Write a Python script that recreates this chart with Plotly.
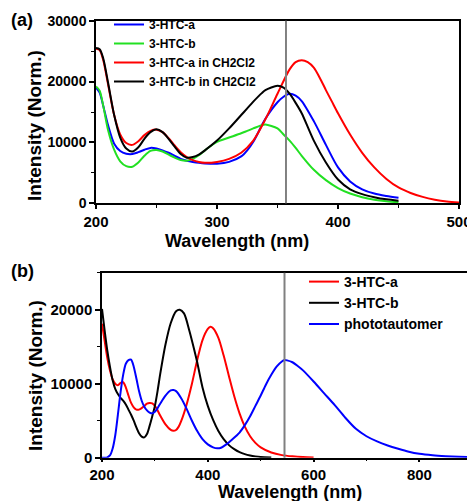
import plotly.graph_objects as go

# ---------------- Panel (a) data ----------------
wl_a = [200, 203, 206, 210, 215, 220, 225, 230, 235, 240, 245, 250, 255, 260, 265, 270, 275, 280,
        285, 290, 300, 310, 320, 325, 330, 337, 340, 350, 355, 360, 365, 370, 380, 390, 400, 410,
        420, 430, 440, 450]
htc_a = [19000, 18200, 16000, 12800, 9800, 8600, 8150, 8100, 8400, 8800, 9100, 9000, 8700, 8300,
         7800, 7300, 7000, 6800, 6650, 6550, 6500, 6800, 7700, 8700, 10100, 12800, 13900, 16600,
         17500, 18000, 17700, 16800, 13500, 9600, 5900, 3600, 2300, 1600, 1200, 900]
htc_b = [19200, 18500, 16000, 12000, 8800, 6900, 6100, 6000, 6700, 7800, 8600, 8750, 8500, 8000,
         7500, 7100, 7000, 7300, 7900, 8700, 10100, 10800, 11500, 11900, 12300, 12850, 12950, 12300,
         11300, 10300, 9100, 7800, 5500, 3800, 2500, 1600, 1000, 600, 350, 200]
htc_b_ch = [25500, 25300, 23800, 19800, 14500, 10800, 9000, 8500, 9200, 10600, 11700, 12150, 11700,
            10600, 9300, 8100, 7500, 7600, 8000, 8700, 10300, 12300, 14500, 15600, 16700, 18100,
            18600, 19300, 19000, 18000, 16500, 14800, 10300, 6700, 3900, 2300, 1500, 1000, 650, 430]

wl_a_red = [200, 203, 206, 210, 215, 220, 225, 230, 235, 240, 245, 250, 255, 260, 265, 270, 275,
            280, 285, 290, 300, 310, 320, 330, 340, 350, 360, 365, 370, 375, 380, 385, 390, 395,
            400, 410, 420, 430, 440, 450, 460, 470, 480, 490, 500]
htc_a_ch = [25400, 25200, 23500, 19500, 14500, 11300, 9900, 9600, 10200, 11200, 11900, 12100, 11700,
            10700, 9500, 8400, 7600, 7100, 6800, 6650, 6800, 7300, 8300, 10300, 13800, 18000, 22000,
            23200, 23500, 23200, 22300, 20600, 18600, 16700, 14800, 11300, 8300, 5900, 4000, 2600,
            1700, 1050, 600, 300, 150]
marker_a = 357

# ---------------- Panel (b) data ----------------
wl_b_red = [200, 205, 210, 215, 220, 225, 230, 235, 240, 245, 250, 255, 260, 265, 270, 275, 280, 285,
            290, 295, 300, 305, 310, 320, 330, 335, 340, 345, 350, 360, 370, 380, 390, 400, 405, 410,
            420, 430, 440, 450, 460, 470, 480, 490, 500, 520, 540, 560, 580, 600]
b_htc_a = [18100, 15800, 13500, 11800, 10600, 10000, 9800, 10100, 10200, 9500, 8400, 7400, 6800, 6500,
           6500, 6700, 7000, 7300, 7400, 7350, 7000, 6400, 5700, 4500, 3750, 3640, 3750, 4200, 5000,
           7200, 10000, 13200, 15900, 17400, 17700, 17500, 16200, 13800, 11000, 8300, 6000, 4200,
           2900, 2000, 1400, 700, 350, 180, 80, 40]

wl_b_black = [200, 205, 210, 215, 220, 225, 230, 235, 240, 245, 250, 255, 260, 265, 270, 275, 280,
              285, 290, 295, 300, 305, 310, 320, 330, 340, 347, 355, 365, 375, 380, 390, 400, 410,
              420, 430, 440, 450, 460, 470, 480, 490, 500, 520]
b_htc_b = [20100, 17200, 14500, 12300, 10500, 9300, 8600, 8100, 7700, 7200, 6500, 5800, 5000, 4100,
           3300, 2850, 2750, 3200, 4300, 5600, 7000, 9000, 11300, 15300, 18200, 19800, 20000, 19500,
           17200, 14400, 12900, 9500, 7000, 5100, 3600, 2500, 1700, 1150, 750, 480, 300, 180, 100, 30]

wl_b_blue = [200, 205, 210, 215, 220, 225, 230, 235, 240, 245, 250, 255, 260, 265, 270, 275, 280, 285,
             290, 295, 300, 305, 310, 320, 330, 335, 340, 350, 360, 370, 380, 390, 400, 410, 418, 425,
             435, 445, 460, 470, 480, 490, 500, 510, 520, 530, 540, 545, 550, 560, 570, 580, 600, 620,
             640, 660, 680, 700, 720, 740, 760, 780, 800, 825, 850, 875, 900]
b_photo = [0, 0, 50, 300, 1200, 3000, 5800, 8800, 11200, 12700, 13200, 13250, 12300, 10700, 9000,
           7700, 6900, 6400, 6100, 6000, 6200, 6700, 7300, 8400, 9100, 9150, 9000, 8000, 6600, 5000,
           3600, 2500, 1800, 1400, 1270, 1350, 1800, 2400, 3400, 4400, 5600, 7000, 8400, 9900, 11200,
           12300, 13000, 13200, 13150, 12900, 12400, 11800, 10300, 8700, 7100, 5400, 3900, 2900,
           2200, 1650, 1200, 800, 520, 320, 200, 120, 80]
marker_b = 545

FONT = "Liberation Sans, Arial, sans-serif"
BLUE, GREEN, RED, BLACK = "#0000FF", "#22E022", "#FF0000", "#000000"

# page body has an 8px margin, so the figure is drawn 8px in from the window corner
OFF = 8
W, H = 475 - OFF, 501 - OFF

def px(x):
    return (x - OFF) / W

def py(y):
    return 1 - (y - OFF) / H

fig = go.Figure()
for name, x, y, c in [("3-HTC-a", wl_a, htc_a, BLUE),
                      ("3-HTC-b", wl_a, htc_b, GREEN),
                      ("3-HTC-a in CH2Cl2", wl_a_red, htc_a_ch, RED),
                      ("3-HTC-b in CH2Cl2", wl_a, htc_b_ch, BLACK)]:
    fig.add_trace(go.Scatter(x=x, y=y, name=name, mode="lines",
                             line=dict(color=c, width=2, shape="spline", smoothing=0.8),
                             xaxis="x", yaxis="y", legend="legend"))
for name, x, y, c in [("3-HTC-a", wl_b_red, b_htc_a, RED),
                      ("3-HTC-b", wl_b_black, b_htc_b, BLACK),
                      ("phototautomer", wl_b_blue, b_photo, BLUE)]:
    fig.add_trace(go.Scatter(x=x, y=y, name=name, mode="lines",
                             line=dict(color=c, width=2, shape="spline", smoothing=0.8),
                             xaxis="x2", yaxis="y2", legend="legend2"))

def ax(**kw):
    d = dict(showgrid=False, zeroline=False, showline=True, linecolor="black", linewidth=1.5,
             mirror=True, ticks="outside", ticklen=5, tickwidth=1.5, tickcolor="black",
             automargin=False,
             tickformat="d", tickfont=dict(family=FONT, size=14, color="black", weight="bold"),
             minor=dict(ticks="outside", ticklen=3, tickwidth=1.2, tickcolor="black"))
    d.update(kw)
    return d

def ann(text, x, y, size, angle=0):
    return dict(text=text, x=px(x), y=py(y), xref="paper", yref="paper",
                xanchor="center", yanchor="middle", showarrow=False, textangle=angle,
                font=dict(family=FONT, size=size, color="black", weight="bold"))

fig.update_layout(
    width=W, height=H, autosize=False,
    margin=dict(l=0, r=0, t=0, b=0, autoexpand=False),
    paper_bgcolor="white", plot_bgcolor="white",
    xaxis=ax(domain=[px(96), px(459)], range=[200, 500], dtick=100, anchor="y", ticklen=4,
             minor=dict(ticks="outside", ticklen=3, tickwidth=1.2, tickcolor="black", dtick=50),
             tickfont=dict(family=FONT, size=15, color="black", weight="bold")),
    yaxis=ax(domain=[py(203.3), py(20.7)], range=[0, 30000], dtick=10000, anchor="x",
             minor=dict(ticks="outside", ticklen=3, tickwidth=1.2, tickcolor="black", dtick=5000)),
    xaxis2=ax(domain=[px(102), px(472.3)], range=[200, 900], dtick=200, anchor="y2", ticklen=3,
              minor=dict(ticks="outside", ticklen=2, tickwidth=1.2, tickcolor="black", dtick=100),
              tickfont=dict(family=FONT, size=15, color="black", weight="bold")),
    yaxis2=ax(domain=[py(457.7), py(272.7)], range=[0, 25000], dtick=10000, anchor="x2",
              minor=dict(ticks="outside", ticklen=3, tickwidth=1.2, tickcolor="black", dtick=5000),
              tickfont=dict(family=FONT, size=15, color="black", weight="bold")),
    legend=dict(x=px(114 - 5), y=py(10), xanchor="left", yanchor="top",
                bgcolor="rgba(0,0,0,0)", borderwidth=0, tracegroupgap=0,
                font=dict(family=FONT, size=12, color="black", weight="bold")),
    legend2=dict(x=px(310 - 6), y=py(266), xanchor="left", yanchor="top",
                 bgcolor="rgba(0,0,0,0)", borderwidth=0,
                 font=dict(family=FONT, size=14, color="black", weight="bold")),
    shapes=[dict(type="line", xref="x", yref="y domain", x0=marker_a, x1=marker_a, y0=0, y1=1,
                 line=dict(color="#808080", width=2)),
            dict(type="line", xref="x2", yref="y2 domain", x0=marker_b, x1=marker_b, y0=0, y1=1,
                 line=dict(color="#808080", width=2))],
    annotations=[
        ann("(a)", 22, 20, 18),
        ann("(b)", 22, 271, 18),
        ann("Wavelength (nm)", 237, 241, 18),
        ann("Wavelength (nm)", 290, 491.5, 18),
        ann("Intensity (Norm.)", 35, 126, 19, -90),
        ann("Intensity (Norm.)", 35, 376, 19, -90),
    ],
)

fig.write_html("out.html")
